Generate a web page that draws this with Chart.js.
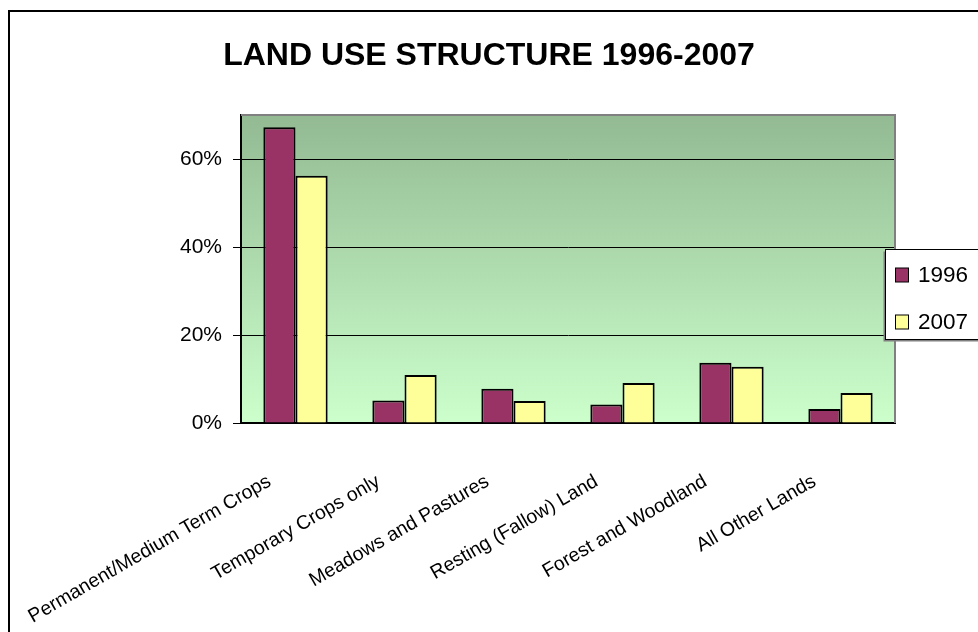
<!DOCTYPE html>
<html>
<head>
<meta charset="utf-8">
<script src="https://cdn.jsdelivr.net/npm/chart.js@4/dist/chart.umd.min.js"></script>
<style>
  html, body { margin: 0; padding: 0; background: #fff; }
  #wrap { width: 978px; height: 632px; position: relative; }
</style>
</head>
<body>
<div id="wrap"><canvas id="c" width="978" height="632"></canvas></div>
<script>
const categories = [
  "Permanent/Medium Term Crops",
  "Temporary Crops only",
  "Meadows and Pastures",
  "Resting (Fallow) Land",
  "Forest and Woodland",
  "All Other Lands"
];
const seriesNames = ["1996", "2007"];
const values1996 = [67.2, 5.1, 7.8, 4.2, 13.7, 3.2];
const values2007 = [56.2, 10.9, 5.0, 9.1, 12.8, 6.8];
const yTicks = [0, 20, 40, 60];
const chartTitle = "LAND USE STRUCTURE 1996-2007";

const FONT = "'Liberation Sans', Arial, sans-serif";
Chart.defaults.font.family = FONT;
Chart.defaults.color = '#000';

const bgPlugin = {
  id: 'bgPlugin',
  beforeDraw(chart) {
    const {ctx, chartArea: a} = chart;
    ctx.save();
    ctx.fillStyle = '#fff';
    ctx.fillRect(0, 0, chart.width, chart.height);
    const g = ctx.createLinearGradient(0, a.top, 0, a.bottom);
    g.addColorStop(0, '#93BA93');
    g.addColorStop(1, '#CCFFCC');
    ctx.fillStyle = g;
    ctx.fillRect(a.left, a.top, a.right - a.left, a.bottom - a.top);
    ctx.restore();
  },
  afterDraw(chart) {
    const {ctx, chartArea: a} = chart;
    ctx.save();
    ctx.strokeStyle = '#808080';
    ctx.lineWidth = 2;
    ctx.beginPath();
    ctx.moveTo(a.left, a.top);
    ctx.lineTo(a.right, a.top);
    ctx.lineTo(a.right, a.bottom);
    ctx.stroke();
    ctx.strokeStyle = '#000';
    ctx.lineWidth = 2;
    ctx.strokeRect(9, 11, 1100, 1100);
    const lx = 885.5, ly = 249.5, lw = 120, lh = 90;
    ctx.fillStyle = '#808080';
    ctx.fillRect(lx - 2, ly + 2, lw, lh);
    ctx.fillStyle = '#fff';
    ctx.fillRect(lx, ly, lw, lh);
    ctx.strokeStyle = '#000';
    ctx.lineWidth = 1;
    ctx.strokeRect(lx, ly, lw, lh);
    const ys = [275, 322];
    chart.data.datasets.forEach((ds, i) => {
      ctx.fillStyle = ds.backgroundColor;
      ctx.fillRect(895.5, ys[i] - 7, 13, 14);
      ctx.strokeStyle = '#000';
      ctx.lineWidth = 1;
      ctx.strokeRect(895.5, ys[i] - 7, 13, 14);
      ctx.fillStyle = '#000';
      ctx.font = '22.5px ' + FONT;
      ctx.textBaseline = 'middle';
      ctx.textAlign = 'left';
      ctx.fillText(ds.label, 918, ys[i] + 1);
    });
    ctx.restore();
  }
};

new Chart(document.getElementById('c'), {
  type: 'bar',
  data: {
    labels: categories,
    datasets: [
      { label: seriesNames[0], data: values1996, backgroundColor: '#993366', borderColor: '#000', borderWidth: 2 },
      { label: seriesNames[1], data: values2007, backgroundColor: '#FFFF99', borderColor: '#000', borderWidth: 2 }
    ]
  },
  options: {
    responsive: false,
    animation: false,
    devicePixelRatio: 1,
    layout: { padding: { left: 0, right: 0, top: 0, bottom: 0 } },
    datasets: { bar: { categoryPercentage: 0.59, barPercentage: 1.0 } },
    plugins: {
      legend: { display: false },
      tooltip: { enabled: false },
      title: {
        display: true,
        text: chartTitle,
        color: '#000',
        font: { size: 32, weight: 'bold', family: FONT },
        padding: { top: 37, bottom: 39.6 }
      }
    },
    scales: {
      x: {
        grid: { display: false, drawTicks: false, tickLength: 0 },
        border: { display: true, color: '#000', width: 2 },
        ticks: {
          autoSkip: false, maxRotation: 30, minRotation: 30,
          font: { size: 19.5 }, color: '#000',
          padding: 47, labelOffset: -26
        },
        afterFit(s) { s.height = 632 - 423; s.paddingLeft = 0; s.paddingRight = 83; }
      },
      y: {
        min: 0, max: 70,
        ticks: {
          stepSize: 20, padding: 11, font: { size: 21 }, color: '#000',
          callback: v => v + '%'
        },
        afterBuildTicks(s) { s.ticks = yTicks.map(v => ({ value: v })); },
        grid: { color: '#000', lineWidth: 1, drawTicks: true, tickLength: 8, tickColor: '#000' },
        border: { display: true, color: '#000', width: 2 },
        afterFit(s) { s.width = 241; s.paddingTop = 0; s.paddingBottom = 0; }
      }
    }
  },
  plugins: [bgPlugin]
});
</script>
</body>
</html>
